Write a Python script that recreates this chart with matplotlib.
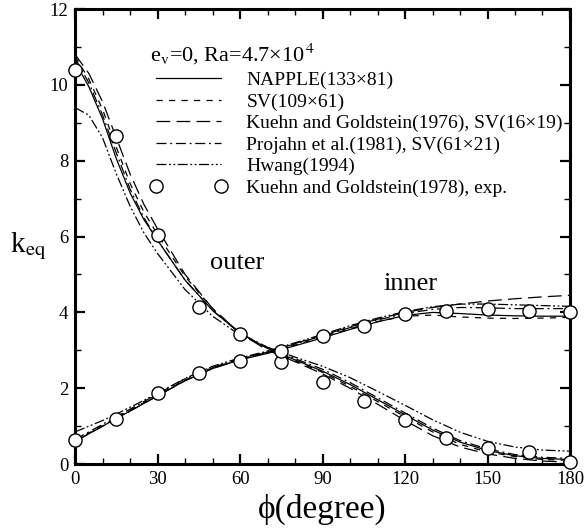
import numpy as np
import matplotlib.pyplot as plt
from matplotlib.ticker import MultipleLocator

plt.rcParams['font.family'] = ['Liberation Serif', 'DejaVu Serif']
plt.rcParams['mathtext.fontset'] = 'stix'

# angle grid for the computed curves
phi = [0, 5, 10, 15, 20, 25, 30, 40, 50, 60, 70, 80, 90, 100, 110, 120, 130, 140, 150, 160, 170, 180]

# outer cylinder
napple_out = [10.6, 9.95, 9.1, 8.05, 7.15, 6.45, 5.9, 4.85, 4.05, 3.45, 3.05, 2.75, 2.45, 2.1, 1.7, 1.3, 0.9, 0.58, 0.36, 0.22, 0.15, 0.12]
sv_out = [10.75, 10.15, 9.35, 8.35, 7.4, 6.65, 6.05, 4.95, 4.1, 3.45, 3.05, 2.72, 2.42, 2.05, 1.65, 1.25, 0.85, 0.52, 0.32, 0.2, 0.12, 0.1]
kg76_out = [10.8, 10.3, 9.55, 8.6, 7.65, 6.85, 6.2, 5.0, 4.1, 3.45, 3.0, 2.7, 2.38, 2.0, 1.58, 1.15, 0.75, 0.45, 0.27, 0.15, 0.08, 0.05]
projahn_out = [10.7, 10.05, 9.2, 8.2, 7.25, 6.5, 5.9, 4.85, 4.05, 3.45, 3.08, 2.78, 2.5, 2.15, 1.75, 1.35, 0.95, 0.62, 0.4, 0.25, 0.18, 0.15]
hwang_out = [9.4, 9.2, 8.6, 7.65, 6.8, 6.1, 5.55, 4.6, 3.9, 3.4, 3.08, 2.82, 2.58, 2.28, 1.92, 1.55, 1.17, 0.84, 0.6, 0.45, 0.37, 0.34]

# inner cylinder
napple_in = [0.6, 0.8, 1.0, 1.2, 1.4, 1.6, 1.8, 2.2, 2.52, 2.75, 2.92, 3.12, 3.33, 3.55, 3.75, 3.92, 4.0, 3.97, 3.93, 3.91, 3.9, 3.9]
sv_in = [0.62, 0.82, 1.02, 1.22, 1.42, 1.62, 1.82, 2.22, 2.54, 2.77, 2.94, 3.14, 3.35, 3.57, 3.76, 3.9, 3.93, 3.88, 3.85, 3.84, 3.85, 3.87]
kg76_in = [0.6, 0.8, 1.0, 1.2, 1.4, 1.6, 1.8, 2.2, 2.52, 2.76, 2.95, 3.18, 3.4, 3.62, 3.82, 4.0, 4.13, 4.22, 4.3, 4.36, 4.41, 4.45]
projahn_in = [0.65, 0.85, 1.05, 1.25, 1.45, 1.65, 1.85, 2.25, 2.55, 2.78, 2.96, 3.17, 3.38, 3.6, 3.8, 3.97, 4.08, 4.13, 4.12, 4.1, 4.1, 4.1]
hwang_in = [0.85, 1.0, 1.15, 1.32, 1.5, 1.68, 1.87, 2.26, 2.58, 2.8, 2.98, 3.2, 3.42, 3.65, 3.85, 4.02, 4.15, 4.22, 4.22, 4.2, 4.18, 4.16]

# experiment (Kuehn and Goldstein 1978)
phi_exp = [0, 15, 30, 45, 60, 75, 90, 105, 120, 135, 150, 165, 180]
exp_out = [10.4, 8.65, 6.05, 4.15, 3.42, 2.68, 2.16, 1.66, 1.16, 0.68, 0.42, 0.32, 0.05]
exp_in = [0.63, 1.2, 1.87, 2.4, 2.71, 2.97, 3.39, 3.63, 3.95, 4.05, 4.1, 4.03, 4.0]

labels = ['NAPPLE(133×81)', 'SV(109×61)', 'Kuehn and Goldstein(1976), SV(16×19)',
          'Projahn et al.(1981), SV(61×21)', 'Hwang(1994)', 'Kuehn and Goldstein(1978), exp.']

styles = [
    (napple_out, napple_in, dict(linestyle='-')),
    (sv_out, sv_in, dict(linestyle=(0, (5, 5)))),
    (kg76_out, kg76_in, dict(linestyle=(0, (11, 5)))),
    (projahn_out, projahn_in, dict(linestyle=(0, (8, 3, 1.5, 3)))),
    (hwang_out, hwang_in, dict(linestyle=(0, (8, 2, 1.5, 2, 1.5, 2)))),
]

fig = plt.figure(figsize=(5.87, 5.31), dpi=100)
ax = fig.add_axes([0.128, 0.126, 0.843, 0.857])

handles = []
for (yo, yi, st), lab in zip(styles, labels):
    h, = ax.plot(phi, yo, color='black', lw=0.9, label=lab, **st)
    ax.plot(phi, yi, color='black', lw=0.9, **st)
    handles.append(h)

kw = dict(linestyle='none', marker='o', ms=9.5, mfc='white', mec='black', mew=1.0, clip_on=False, zorder=5)
h, = ax.plot(phi_exp, exp_out, label=labels[-1], **kw)
ax.plot(phi_exp, exp_in, **kw)
handles.append(h)

ax.set_xlim(0, 180)
ax.set_ylim(0, 12)
ax.xaxis.set_major_locator(MultipleLocator(30))
ax.xaxis.set_minor_locator(MultipleLocator(10))
ax.yaxis.set_major_locator(MultipleLocator(2))
ax.yaxis.set_minor_locator(MultipleLocator(1))
ax.tick_params(which='both', direction='in', top=True, right=True, labelsize=13.5)
ax.tick_params(which='major', length=7, width=1.6, pad=5)
ax.tick_params(which='minor', length=4, width=1.0)
for s in ax.spines.values():
    s.set_linewidth(2.2)

ax.set_xlabel('ϕ(degree)', fontsize=24, labelpad=4)
ax.set_ylabel(r'k$_{\mathrm{eq}}$', fontsize=21, rotation=0, va='center', ha='center')
ax.yaxis.set_label_coords(-0.095, 0.48)

ax.text(49, 5.3, 'outer', fontsize=19, va='center')
ax.text(112, 4.75, 'inner', fontsize=19, va='center')

leg = ax.legend(handles=handles, loc='upper left', frameon=False, fontsize=14,
                title=r'e$_{\mathrm{v}}$=0, Ra=4.7×10$^{\,4}$', title_fontsize=16,
                alignment='left', handlelength=3.95, handletextpad=1.0, labelspacing=0.2,
                numpoints=2, borderpad=0, borderaxespad=0,
                bbox_to_anchor=(150 / 587, 1 - 42 / 531), bbox_transform=fig.transFigure)

fig.savefig('out.png', dpi=100)
